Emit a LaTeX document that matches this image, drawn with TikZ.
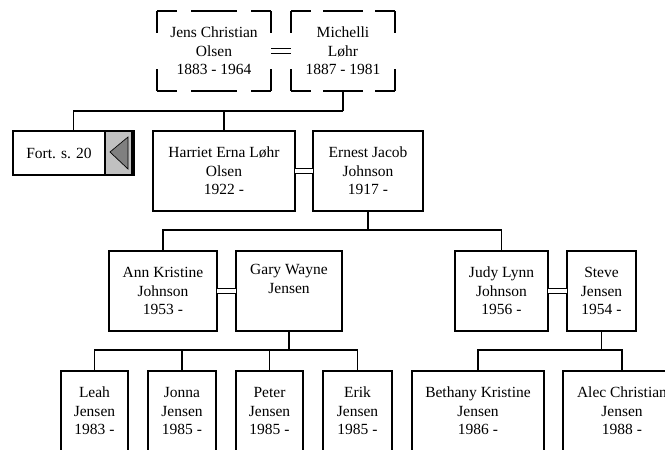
\documentclass[tikz,border=0pt]{standalone}
\usepackage{fontspec}
\setmainfont{Liberation Serif}
\begin{document}
\begin{tikzpicture}[x=1pt,y=-1pt,
  person/.style={draw, line width=1.7pt, anchor=north west, minimum height=80pt,
    inner sep=0pt, outer sep=0pt, align=center,
    font=\fontsize{15.5}{18.5}\selectfont},
  ghost/.style={anchor=north west, minimum height=80pt,
    inner sep=0pt, outer sep=0pt, align=center,
    font=\fontsize{15.5}{18.5}\selectfont},
  hdashA/.style={line width=1.7pt, dash pattern=on 46pt off 14pt, dash phase=26pt},
  hdashB/.style={line width=1.7pt, dash pattern=on 40pt off 12pt, dash phase=20pt},
  vdash/.style={line width=1.7pt, dash pattern=on 22pt off 36pt},
  conn/.style={line width=1.7pt, line join=miter},
  spouse/.style={double, line width=1.2pt, double distance=3.2pt},
  txt/.style={font=\fontsize{15.5}{18.5}\selectfont, inner sep=0pt}
]
\useasboundingbox (0,0) rectangle (665,450);
\clip (0,0) rectangle (665,450);
\definecolor{lgrey}{HTML}{C0C0C0}
\definecolor{dgrey}{HTML}{808080}

% generation 1 (dashed)
\node[ghost, minimum width=114pt] (jens) at (157,11) {Jens Christian\\Olsen\\1883 - 1964};
\node[ghost, minimum width=104pt] (michelli) at (291,11) {Michelli\\Løhr\\1887 - 1981};
\foreach \n/\s in {jens/hdashA, michelli/hdashB}{
  \draw[\s] (\n.north west) -- (\n.north east);
  \draw[\s] (\n.south west) -- (\n.south east);
  \draw[vdash] (\n.north west) -- (\n.south west);
  \draw[vdash] (\n.north east) -- (\n.south east);
}

% generation 2
\fill[lgrey] (105,131) rectangle (134,175);
\node[draw, line width=1.7pt, anchor=north west, minimum width=121pt, minimum height=44pt,
      inner sep=0pt, outer sep=0pt] (fort) at (13,131) {};
\node[txt] (fortlabel) at (59,153) {Fort. s. 20};
\draw[line width=1.2pt] (105,131) -- (105,175);
\draw[line width=3pt] (132.5,131) -- (132.5,175);
\draw[fill=dgrey, line width=0.7pt] (110,152) -- (128,137) -- (128,169) -- cycle;

\node[person, minimum width=142pt] (harriet) at (153,131) {Harriet Erna Løhr\\Olsen\\1922 -};
\node[person, minimum width=110pt] (ernest) at (313,131) {Ernest Jacob\\Johnson\\1917 -};

% generation 3
\node[person, minimum width=108pt] (ann) at (109,251) {Ann Kristine\\Johnson\\1953 -};
\node[person, minimum width=106pt] (gary) at (236,251) {Gary Wayne\\Jensen\\\strut};
\node[person, minimum width=93pt] (judy) at (455,251) {Judy Lynn\\Johnson\\1956 -};
\node[person, minimum width=69pt] (steve) at (567,251) {Steve\\Jensen\\1954 -};

% generation 4
\node[person, minimum width=67pt] (leah) at (61,371) {Leah\\Jensen\\1983 -};
\node[person, minimum width=68pt] (jonna) at (148,371) {Jonna\\Jensen\\1985 -};
\node[person, minimum width=67pt] (peter) at (236,371) {Peter\\Jensen\\1985 -};
\node[person, minimum width=69pt] (erik) at (323,371) {Erik\\Jensen\\1985 -};
\node[person, minimum width=132pt] (bethany) at (412,371) {Bethany Kristine\\Jensen\\1986 -};
\node[person, minimum width=118pt] (alec) at (563,371) {Alec Christian\\Jensen\\1988 -};

% spouse links
\draw[spouse] (jens.east) -- (michelli.west);
\draw[spouse] (harriet.east) -- (ernest.west);
\draw[spouse] (ann.east) -- (gary.west);
\draw[spouse] (judy.east) -- (steve.west);

% descent lines
\coordinate (j1) at (343,111);
\draw[conn] (michelli.south) -- (j1);
\draw[conn] (j1) -| (fort.north);
\draw[conn] (harriet.north) -- (harriet.north |- j1);

\coordinate (j2) at (368,230);
\draw[conn] (ernest.south) -- (j2);
\draw[conn] (ann.north) |- (judy.north |- j2) -- (judy.north);

\coordinate (j3) at (289,350);
\draw[conn] (gary.south) -- (j3);
\draw[conn] (leah.north) |- (erik.north |- j3) -- (erik.north);
\draw[conn] (jonna.north) -- (jonna.north |- j3);
\draw[conn] (peter.north) -- (peter.north |- j3);

\coordinate (j4) at (601.5,350);
\draw[conn] (steve.south) -- (j4);
\draw[conn] (bethany.north) |- (alec.north |- j4) -- (alec.north);
\end{tikzpicture}
\end{document}
